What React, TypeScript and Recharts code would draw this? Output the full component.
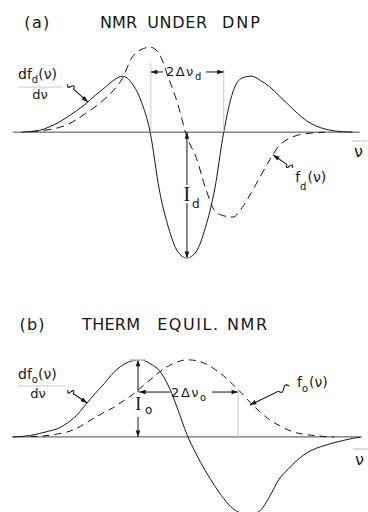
import React from "react";
import { LineChart, Line, XAxis, YAxis, ReferenceLine, ReferenceDot } from "recharts";

// frequency offset from line centre (arbitrary units), panel (a)
const NU_DNP = [
  -4.5, -4.25, -4, -3.75, -3.5, -3.25, -3, -2.75, -2.5, -2.25, -2, -1.75, -1.5, -1.25, -1, -0.75, -0.5, -0.25, 0,
  0.25, 0.5, 0.75, 1, 1.25, 1.5, 1.75, 2, 2.25, 2.5, 2.75, 3, 3.25, 3.5, 3.75, 4, 4.25, 4.5,
];
// df_d/dν (solid)
const DNP_DERIV = [
  0, 0.005, 0.015, 0.04, 0.075, 0.12, 0.17, 0.225, 0.29, 0.35, 0.41, 0.445, 0.39, 0.25, 0, -0.46, -0.76, -0.95, -1,
  -0.95, -0.76, -0.46, 0, 0.32, 0.43, 0.445, 0.41, 0.36, 0.29, 0.22, 0.15, 0.09, 0.05, 0.025, 0.01, 0.003, 0,
];
// f_d(ν) (dashed)
const DNP_LINE = [
  null, 0.003, 0.01, 0.02, 0.035, 0.06, 0.1, 0.15, 0.2, 0.26, 0.33, 0.43, 0.59, 0.655, 0.675, 0.62, 0.43, 0.225, -0.04,
  -0.2, -0.44, -0.62, -0.665, -0.675, -0.6, -0.48, -0.35, -0.22, -0.11, -0.055, -0.025, -0.012, -0.004, 0, null, null, null,
];

// panel (b)
const NU_EQ = [
  -4.75, -4.5, -4.25, -4, -3.75, -3.5, -3.25, -3, -2.75, -2.5, -2.25, -2, -1.75, -1.5, -1.25, -1, -0.75, -0.5, -0.25, 0,
  0.25, 0.5, 0.75, 1, 1.25, 1.5, 1.75, 2, 2.25, 2.5, 2.75, 3, 3.25, 3.5, 3.75, 4, 4.25, 4.5, 4.75,
];
// df_o/dν (solid)
const EQ_DERIV = [
  0, 0.005, 0.02, 0.045, 0.075, 0.11, 0.18, 0.28, 0.42, 0.56, 0.69, 0.83, 0.93, 0.985, 1, 0.95, 0.86, 0.66, 0.36, 0.03,
  -0.22, -0.44, -0.63, -0.8, -0.93, -0.99, -1, -0.95, -0.77, -0.55, -0.42, -0.3, -0.21, -0.15, -0.11, -0.075, -0.045, -0.02, 0,
];
// f_o(ν) (dashed)
const EQ_LINE = [
  null, null, 0.005, 0.01, 0.02, 0.04, 0.065, 0.11, 0.18, 0.25, 0.32, 0.38, 0.46, 0.54, 0.64, 0.74, 0.84, 0.92, 0.975, 1,
  0.99, 0.95, 0.88, 0.79, 0.68, 0.56, 0.43, 0.32, 0.22, 0.15, 0.09, 0.05, 0.03, 0.015, 0.005, 0, null, null, null,
];

const NU_DOMAIN: [number, number] = [-5.08, 4.92];
const INK = "#161616";
const FONT = "'DejaVu Sans', sans-serif";
const SERIF = "'Liberation Serif', serif";

const series = (nu: number[], vals: (number | null)[]) =>
  nu.map((n, i) => ({ nu: n, v: vals[i] })).filter((d) => d.v !== null);

const dnpDeriv = series(NU_DNP, DNP_DERIV);
const dnpLine = series(NU_DNP, DNP_LINE);
const eqDeriv = series(NU_EQ, EQ_DERIV);
const eqLine = series(NU_EQ, EQ_LINE);

function headPoints(x1: number, y1: number, x2: number, y2: number) {
  const a = Math.atan2(y2 - y1, x2 - x1);
  const len = 6.5;
  const w = 2.3;
  const bx = x2 - len * Math.cos(a);
  const by = y2 - len * Math.sin(a);
  const nx = -Math.sin(a) * w;
  const ny = Math.cos(a) * w;
  return `${x2},${y2} ${bx + nx},${by + ny} ${bx - nx},${by - ny}`;
}

function ArrowShape(p: any) {
  const { x1, y1, x2, y2 } = p;
  return (
    <g>
      <line x1={x1} y1={y1} x2={x2} y2={y2} stroke={INK} strokeWidth={1} />
      <polygon points={headPoints(x1, y1, x2, y2)} fill={INK} />
    </g>
  );
}

function RuleShape(p: any) {
  const { x1, y1, x2, y2, stroke, strokeWidth } = p;
  return <line x1={x1} y1={y1} x2={x2} y2={y2} stroke={stroke || INK} strokeWidth={strokeWidth || 1} />;
}

// wavy leader ending in an arrowhead
function PointerShape(p: any) {
  const { x1, y1, x2, y2 } = p;
  const dx = x2 - x1;
  const dy = y2 - y1;
  const len = Math.hypot(dx, dy);
  const tx = dx / len;
  const ty = dy / len;
  const at = (s: number, o: number) =>
    `${(x1 + tx * s * len - ty * o).toFixed(1)},${(y1 + ty * s * len + tx * o).toFixed(1)}`;
  const amp = 5;
  const d = `M${at(0, 0)} Q${at(0.07, amp)} ${at(0.14, 0)} T${at(0.28, 0)} L${at(1, 0)}`;
  return (
    <g>
      <path d={d} fill="none" stroke={INK} strokeWidth={1.1} />
      <polygon points={headPoints(x1, y1, x2, y2)} fill={INK} />
    </g>
  );
}

const seg = (x1: number, y1: number, x2: number, y2: number, shape: any, extra: any = {}) => (
  <ReferenceLine
    segment={[{ x: x1, y: y1 }, { x: x2, y: y2 }]}
    ifOverflow="visible"
    shape={shape}
    {...extra}
  />
);

const txt = (x: number, y: number, body: React.ReactNode, extra: any = {}) => (
  <ReferenceDot
    x={x}
    y={y}
    r={0}
    ifOverflow="visible"
    shape={(p: any) => (
      <text x={p.cx} y={p.cy} fill={INK} fontFamily={FONT} fontSize={14} {...extra}>
        {body}
      </text>
    )}
  />
);

const sub = (s: string, size = 10, drop = 4) => (
  <tspan fontSize={size} dy={drop}>
    {s}
  </tspan>
);

const curve = (data: any[], dash?: string) => (
  <Line
    data={data}
    type="monotone"
    dataKey="v"
    stroke={INK}
    strokeWidth={1}
    strokeDasharray={dash}
    dot={false}
    activeDot={false}
    isAnimationActive={false}
  />
);

const TITLE = { fontSize: 16, lengthAdjust: "spacing" };

export default function App() {
  return (
    <div style={{ position: "absolute", left: 0, top: 0, width: 368, height: 512, overflow: "hidden", background: "#fff" }}>
      {/* (a) NMR under DNP */}
      <div style={{ position: "absolute", left: 0, top: 0 }}>
        <LineChart width={368} height={302} margin={{ top: 0, right: 0, bottom: 0, left: 0 }}>
          <XAxis type="number" dataKey="nu" domain={NU_DOMAIN} allowDataOverflow hide />
          <YAxis type="number" domain={[-1.35, 1.05]} allowDataOverflow hide />
          {seg(-4.73, 0, 4.7, 0, RuleShape, { stroke: "#4a4a4a" })}
          {curve(dnpLine, "8 5")}
          {curve(dnpDeriv)}

          {txt(-4.42, 0.828, "(a)", { ...TITLE, textLength: 25 })}
          {txt(-2.36, 0.828, "NMR", { ...TITLE, textLength: 37 })}
          {txt(-1.08, 0.828, "UNDER", { ...TITLE, textLength: 60 })}
          {txt(0.95, 0.828, "DNP", { ...TITLE, textLength: 38 })}

          {/* linewidth 2Δν_d between the zero crossings */}
          {seg(-0.98, 0, -0.98, 0.549, RuleShape)}
          {seg(1, 0, 1, 0.494, RuleShape)}
          {seg(-0.65, 0.478, -0.98, 0.478, ArrowShape)}
          {seg(0.52, 0.478, 1, 0.478, ArrowShape)}
          {txt(-0.57, 0.446, <>2Δν{sub("d")}</>, { fontSize: 13, letterSpacing: 1.5 })}

          {/* peak intensity I_d */}
          {seg(0, -0.42, 0, 0, ArrowShape)}
          {seg(0, -0.564, 0, -1, ArrowShape)}
          {seg(-0.19, -1, 0.14, -1, RuleShape)}
          {txt(0, -0.548, "I", { fontFamily: SERIF, fontSize: 20, textAnchor: "middle" })}
          {txt(0.14, -0.603, "d", { fontSize: 12 })}

          {/* curve labels */}
          {txt(-4.59, 0.422, <>df{sub("d")}<tspan dy={-4}>(ν)</tspan></>)}
          {seg(-4.59, 0.358, -3.37, 0.358, RuleShape)}
          {txt(-3.99, 0.263, "dν", { textAnchor: "middle", fontSize: 13 })}
          {seg(-3.23, 0.382, -2.69, 0.239, PointerShape)}

          {txt(2.94, -0.398, <>f{sub("d", 10, 8)}<tspan dy={-8} dx={1}>(ν)</tspan></>)}
          {seg(2.86, -0.286, 2.34, -0.182, PointerShape)}

          {seg(4.49, -0.071, 4.9, -0.071, RuleShape, { strokeWidth: 1.3 })}
          {txt(4.54, -0.198, "ν", { fontSize: 16 })}
        </LineChart>
      </div>

      {/* (b) thermal equilibrium NMR */}
      <div style={{ position: "absolute", left: 0, top: 302 }}>
        <LineChart width={368} height={212} margin={{ top: 0, right: 0, bottom: 0, left: 0 }}>
          <XAxis type="number" dataKey="nu" domain={NU_DOMAIN} allowDataOverflow hide />
          <YAxis type="number" domain={[-1, 1.75]} allowDataOverflow hide />
          {seg(-4.73, 0, 4.7, 0, RuleShape, { stroke: "#4a4a4a" })}
          {curve(eqLine, "7 5")}
          {curve(eqDeriv)}

          {txt(-4.55, 1.386, "(b)", { ...TITLE, textLength: 25 })}
          {txt(-2.85, 1.386, "THERM", { ...TITLE, textLength: 58 })}
          {txt(-0.81, 1.386, "EQUIL.", { ...TITLE, textLength: 61 })}
          {txt(1.09, 1.386, "NMR", { ...TITLE, textLength: 40 })}

          {/* peak intensity I_o */}
          {seg(-1.33, 0.58, -1.33, 1.0, ArrowShape)}
          {seg(-1.55, 1.0, -1.11, 1.0, RuleShape, { strokeWidth: 1.6 })}
          {seg(-1.33, 0.26, -1.33, 0, ArrowShape)}
          {txt(-1.32, 0.349, "I", { fontFamily: SERIF, fontSize: 18, textAnchor: "middle" })}
          {txt(-1.14, 0.297, "o", { fontSize: 12 })}

          {/* linewidth 2Δν_o */}
          {seg(-0.46, 0.582, -1.3, 0.582, ArrowShape)}
          {seg(0.68, 0.582, 1.39, 0.582, ArrowShape)}
          {seg(1.39, 0, 1.39, 0.582, RuleShape)}
          {txt(-0.43, 0.518, <>2Δν{sub("o")}</>, { fontSize: 13, letterSpacing: 1.5 })}

          {/* curve labels */}
          {txt(-4.59, 0.75, <>df{sub("o")}<tspan dy={-4}>(ν)</tspan></>)}
          {seg(-4.59, 0.66, -3.31, 0.66, RuleShape)}
          {txt(-4.05, 0.5, "dν", { textAnchor: "middle", fontSize: 13 })}
          {seg(-3.23, 0.608, -2.71, 0.44, PointerShape)}

          {txt(2.99, 0.648, <>f{sub("o", 10, 5)}<tspan dy={-5} dx={1}>(ν)</tspan></>)}
          {seg(2.78, 0.661, 1.71, 0.414, PointerShape)}

          {seg(4.51, -0.157, 4.9, -0.157, RuleShape, { strokeWidth: 1.3 })}
          {txt(4.57, -0.365, "ν", { fontSize: 16 })}
        </LineChart>
      </div>
    </div>
  );
}
